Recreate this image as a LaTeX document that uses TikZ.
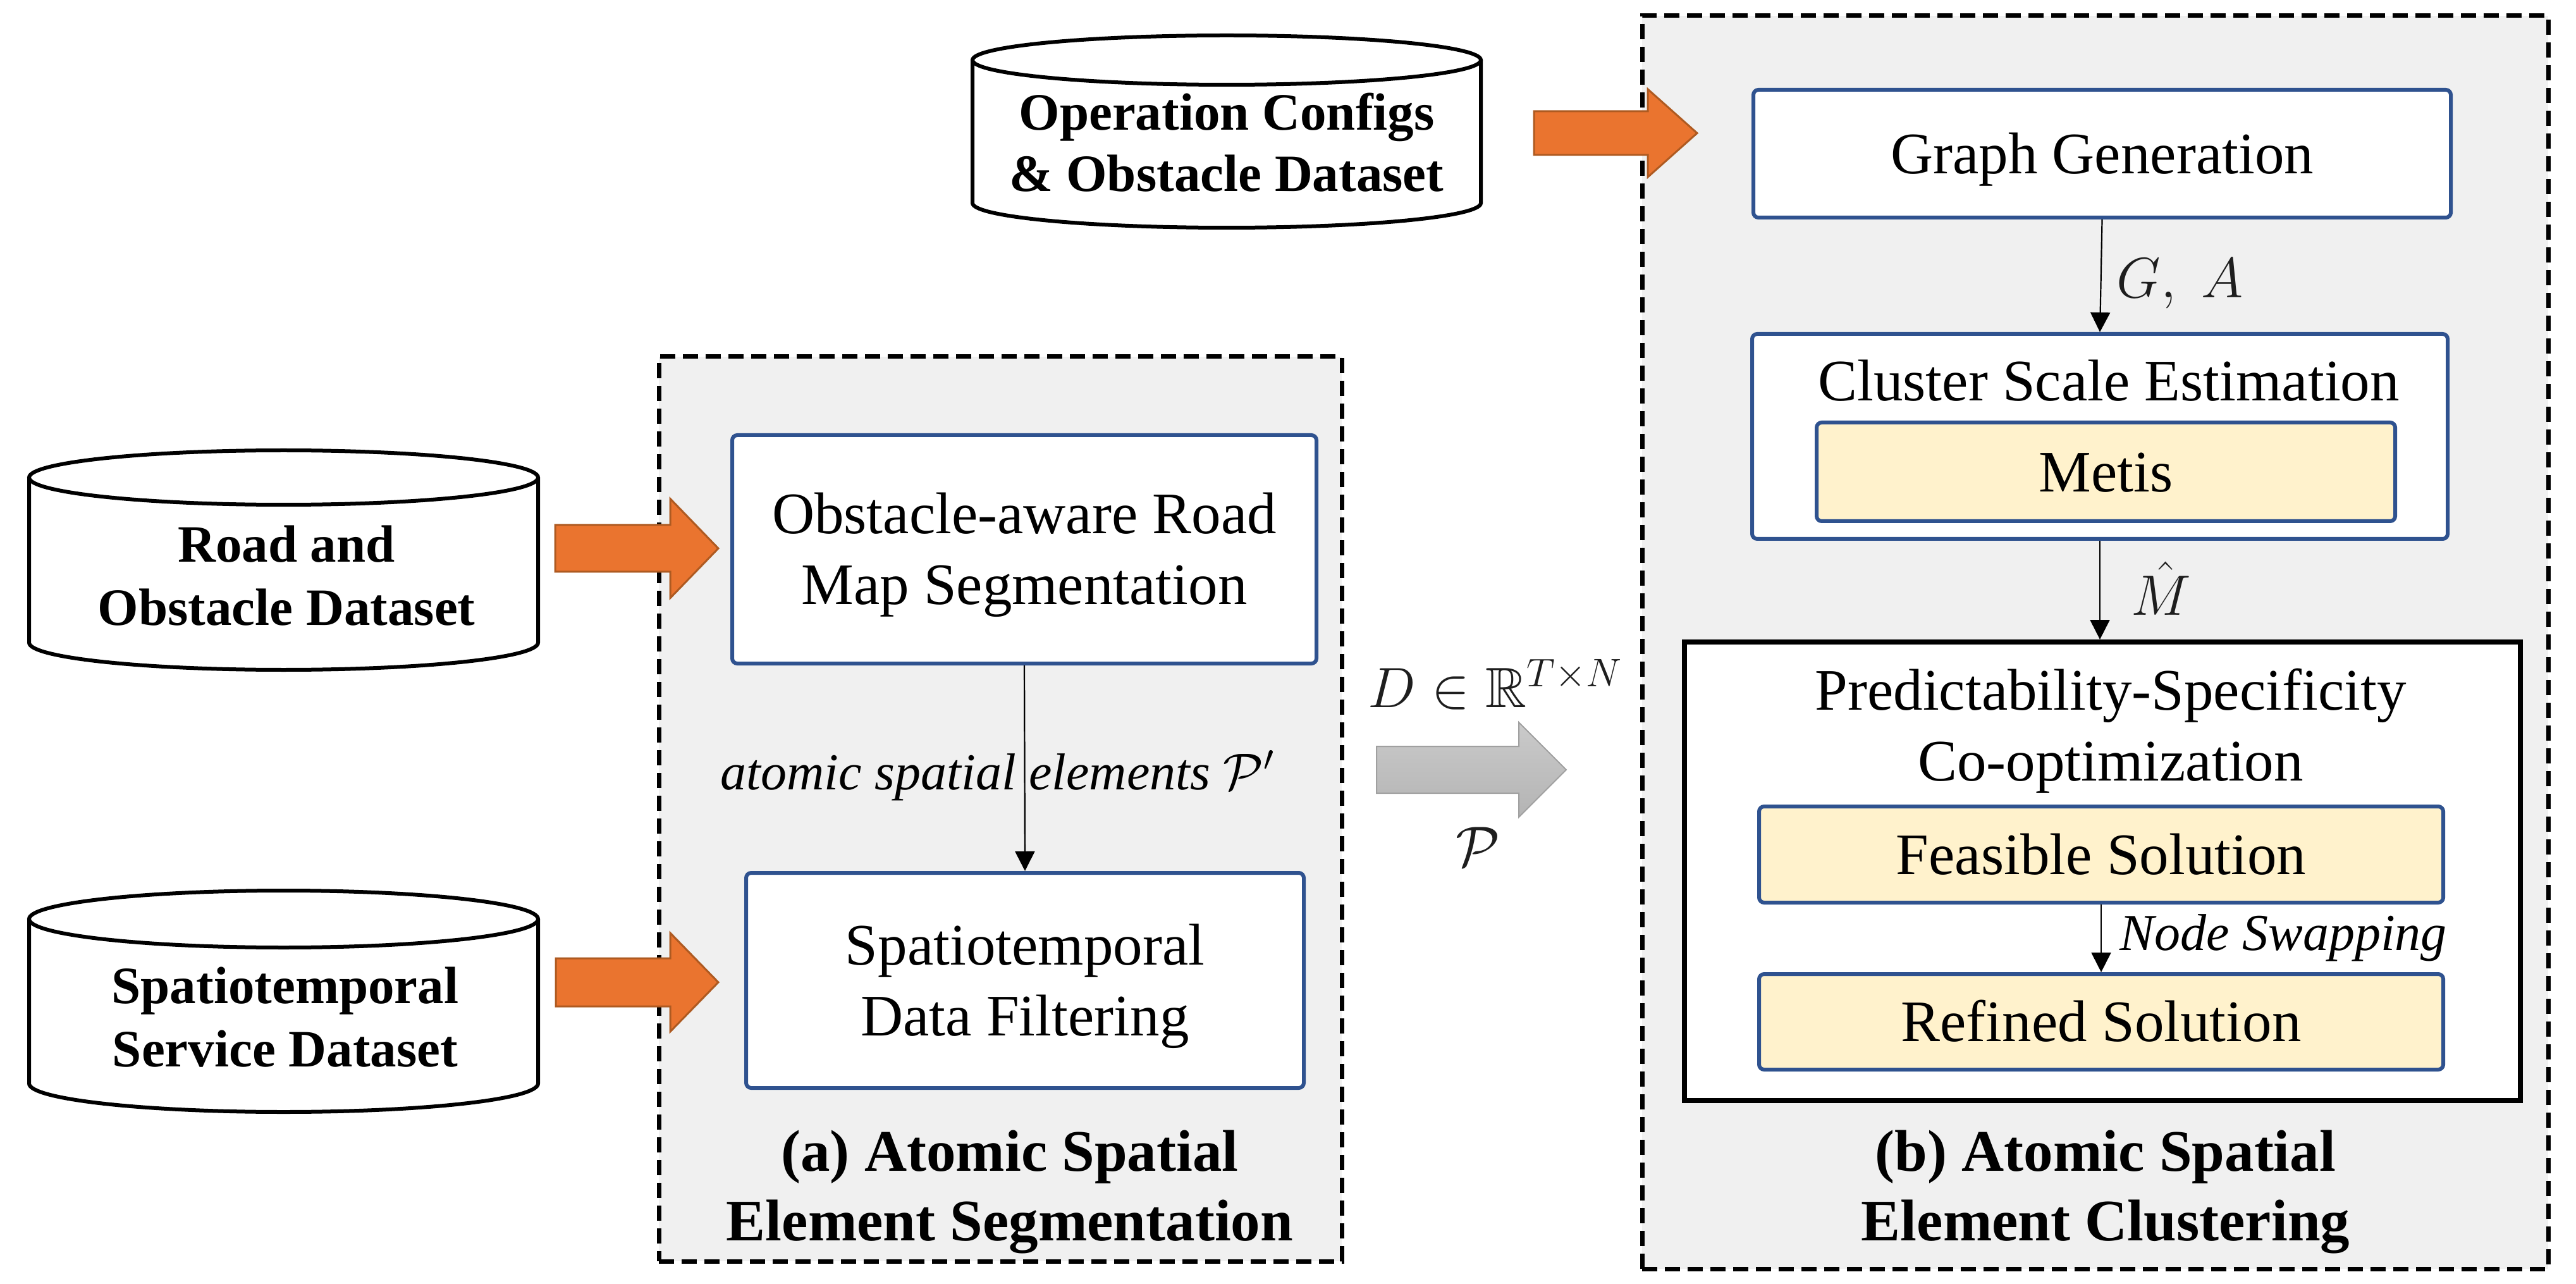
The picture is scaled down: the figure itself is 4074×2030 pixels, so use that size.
\RequirePackage{fix-cm}
\documentclass[tikz,border=0pt]{standalone}
\usepackage{amssymb}
\usepackage{fontspec}
\setmainfont{Liberation Serif}
\usetikzlibrary{arrows.meta}

\definecolor{panelgray}{HTML}{F0F0F0}
\definecolor{boxblue}{HTML}{2F528F}
\definecolor{paleyellow}{HTML}{FFF2CC}
\definecolor{orangefill}{HTML}{EA742F}
\definecolor{orangeedge}{HTML}{AE5A21}
\definecolor{grayA}{HTML}{CACACA}
\definecolor{grayB}{HTML}{B4B4B4}
\definecolor{grayedge}{HTML}{A0A0A0}
\definecolor{labelgray}{HTML}{1E1E1E}

\newcommand\pstr{\rule[-0.216em]{0pt}{1.107em}}
\newcommand\boxfont{\fontsize{23.25pt}{28pt}\selectfont}
\newcommand\cylfont{\fontsize{20.75pt}{25pt}\selectfont\bfseries}
\newcommand\cylfonttight{\fontsize{20.75pt}{21.5pt}\selectfont\bfseries}
\newcommand\titlefont{\fontsize{23.25pt}{27.5pt}\selectfont\bfseries}
\newcommand\labelfont{\fontsize{20.5pt}{24pt}\selectfont\itshape}
\newcommand\mathlabfont{\fontsize{22.5pt}{26pt}\selectfont}

% #1 L, #2 R, #3 y top-ellipse centre, #4 y bottom-ellipse centre, #5 rx, #6 ry
\newcommand\drawcylinder[6]{%
  \path[fill=white] (#1,#3) -- (#1,#4) arc[start angle=180,end angle=360,x radius=#5,y radius=#6]
    -- (#2,#3) arc[start angle=0,end angle=180,x radius=#5,y radius=#6] -- cycle;
  \draw[cylline] (#1,#3) -- (#1,#4) arc[start angle=180,end angle=360,x radius=#5,y radius=#6] -- (#2,#3);
  \draw[cylline] ({(#1+#2)/2},#3) ellipse[x radius=#5,y radius=#6];
}
% #1 style, #2 tail x, #3 tip x, #4 centre y, #5 shaft half, #6 head half, #7 head length
\newcommand\blockarrow[7]{%
  \draw[#1] (#2,{#4-#5}) -- ({#3-#7},{#4-#5}) -- ({#3-#7},{#4-#6}) -- (#3,#4)
    -- ({#3-#7},{#4+#6}) -- ({#3-#7},{#4+#5}) -- (#2,{#4+#5}) -- cycle;
}

\begin{document}
\begin{tikzpicture}[x=0.25pt, y=-0.25pt,
  panel/.style={draw=black, line width=1.75pt, dash pattern=on 6pt off 3pt, fill=panelgray, inner sep=0pt},
  bluebox/.style={draw=boxblue, line width=1.5pt, rounded corners=2pt, fill=white, inner sep=0pt, align=center, font=\boxfont},
  yellowbox/.style={bluebox, fill=paleyellow},
  blackbox/.style={draw=black, line width=2pt, fill=white, inner sep=0pt},
  plaintext/.style={inner sep=0pt, align=center, font=\boxfont},
  cyltext/.style={inner sep=0pt, align=center, font=\cylfont},
  cylline/.style={draw=black, line width=1.5pt},
  titletext/.style={inner sep=0pt, align=center, font=\titlefont},
  itlabel/.style={inner sep=0pt, font=\labelfont},
  mathlabel/.style={inner sep=0pt, font=\mathlabfont, text=labelgray},
  flow/.style={draw=black, line width=0.55pt, -{Triangle[length=7.75pt,width=7.75pt]}},
  orangearrow/.style={fill=orangefill, draw=orangeedge, line width=0.75pt, line join=miter},
  grayblock/.style={top color=grayA, bottom color=grayB, draw=grayedge, line width=0.5pt, line join=miter}
]
\useasboundingbox (0,0) rectangle (4074,2030);

% panels
\node[panel, minimum width=270pt, minimum height=357.5pt] (panelA) at (1582,1279) {};
\node[panel, minimum width=358.25pt, minimum height=495.25pt] (panelB) at (3313.5,1015.5) {};

% cylinders (datasets)
\drawcylinder{1538}{2342}{95}{321}{100.5pt}{9.75pt}
\node[cyltext, font=\cylfonttight] (opdata) at (1940,226) {\pstr Operation Configs\\ \& Obstacle Dataset\pstr};
\drawcylinder{46}{851}{755}{1016}{100.625pt}{10.75pt}
\node[cyltext] (roaddata) at (453,910) {\pstr Road and\\ Obstacle Dataset\pstr};
\drawcylinder{46}{851}{1453}{1713}{100.625pt}{11.25pt}
\node[cyltext] (stdata) at (451,1608) {\pstr Spatiotemporal\\ Service Dataset\pstr};

% orange block arrows
\blockarrow{orangearrow}{2426}{2684}{210.5}{34.5}{69.5}{78}
\blockarrow{orangearrow}{878}{1136}{867}{37}{78.5}{76}
\blockarrow{orangearrow}{879}{1136}{1553}{38}{78}{76}

% panel (a)
\node[bluebox, minimum width=231pt, minimum height=90.25pt] (obs) at (1620,868.5) {\pstr Obstacle-aware Road\\ Map Segmentation\pstr};
\node[bluebox, minimum width=220.5pt, minimum height=85pt] (stf) at (1621,1550) {\pstr Spatiotemporal\\ Data Filtering\pstr};
\draw[flow] (obs.south) -- (stf.north);
\node[itlabel, anchor=base] (lblP) at (1578,1248) {atomic spatial elements $\mathcal{P}'$};
\node[titletext] (titleA) at (1597,1875) {\pstr (a) Atomic Spatial\\ Element Segmentation\pstr};

% transfer arrow
\blockarrow{grayblock}{2177}{2477}{1217}{37}{75}{75}
\node[mathlabel, anchor=base west] (lblD) at (2163,1118) {$D \in \mathbb{R}^{T\times N}$};
\node[mathlabel] (lblPP) at (2337,1339) {$\mathcal{P}$};

% panel (b)
\node[bluebox, minimum width=275.75pt, minimum height=50.5pt] (gg) at (3324.5,243) {\pstr Graph Generation};
\node[bluebox, minimum width=275pt, minimum height=81pt] (cse) at (3321,690) {};
\node[plaintext] (cseT) at (3335,602.6) {\pstr Cluster Scale Estimation};
\node[yellowbox, minimum width=228.75pt, minimum height=39pt] (metis) at (3330.5,746) {\pstr Metis};
\draw[flow] (gg.south) -- (cse.north);
\node[mathlabel, anchor=base west] (lblGA) at (3347,471) {$G,\;A$};

\node[blackbox, minimum width=330.5pt, minimum height=181.25pt] (pso) at (3325,1377.5) {};
\node[plaintext] (psoT) at (3338,1147.5) {\pstr Predictability-Specificity\\ Co-optimization\pstr};
\node[yellowbox, minimum width=270.5pt, minimum height=38pt] (feas) at (3323,1351) {\pstr Feasible Solution};
\node[yellowbox, minimum width=270.5pt, minimum height=37.75pt] (refd) at (3323,1615.5) {\pstr Refined Solution};
\draw[flow] (cse.south) -- (cse.south |- pso.north);
\node[mathlabel, anchor=base west] (lblM) at (3370,973) {$\hat{M}$};
\draw[flow] (feas.south) -- (refd.north);
\node[itlabel, anchor=base west] (lblNS) at (3352,1502) {Node Swapping};

\node[titletext] (titleB) at (3330,1875.5) {\pstr (b) Atomic Spatial\\ Element Clustering\pstr};
\end{tikzpicture}
\end{document}
